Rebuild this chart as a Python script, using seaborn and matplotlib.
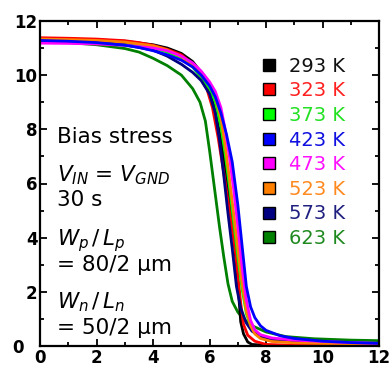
import pandas as pd
import matplotlib
matplotlib.use("Agg")
import matplotlib.pyplot as plt
from matplotlib.lines import Line2D
from matplotlib.ticker import MultipleLocator
from matplotlib.transforms import ScaledTranslation
import seaborn as sns

# VTC curves (x = V_IN, y = V_OUT)
x_293 = [0, 1, 2, 3, 4, 4.5, 5, 5.4, 5.7, 6.0, 6.2, 6.4, 6.6, 6.8, 6.95, 7.05, 7.1, 7.2, 7.35, 7.5, 8, 9, 10, 12]
y_293 = [11.35, 11.33, 11.3, 11.25, 11.12, 11.0, 10.8, 10.5, 10.1, 9.4, 8.7, 7.6, 6.2, 4.6, 3.0, 1.6, 0.9, 0.45, 0.15, 0.06, 0.03, 0.02, 0.02, 0.02]

x_323 = [0, 1, 2, 3, 3.5, 4, 4.5, 5, 5.4, 5.7, 5.9, 6.1, 6.3, 6.5, 6.7, 6.9, 7.1, 7.2, 7.35, 7.6, 8.0, 9, 12]
y_323 = [11.38, 11.36, 11.33, 11.27, 11.2, 11.1, 10.95, 10.75, 10.4, 10.0, 9.5, 8.8, 7.7, 6.4, 5.0, 3.6, 1.6, 0.8, 0.4, 0.18, 0.06, 0.03, 0.03]

x_373 = [0, 1, 2, 3, 4, 4.5, 5, 5.4, 5.7, 6.0, 6.2, 6.4, 6.55, 6.7, 6.85, 7.0, 7.15, 7.3, 7.45, 7.6, 7.8, 8.2, 9, 10, 12]
y_373 = [11.3, 11.28, 11.24, 11.16, 11.0, 10.85, 10.6, 10.3, 9.9, 9.5, 9.0, 8.1, 7.1, 5.9, 4.6, 3.3, 2.1, 1.2, 0.75, 0.5, 0.35, 0.25, 0.18, 0.14, 0.1]

x_423 = [0, 1, 2, 3, 3.5, 4, 4.5, 5, 5.4, 5.7, 6.0, 6.2, 6.4, 6.6, 6.8, 7.0, 7.15, 7.3, 7.45, 7.6, 7.8, 8.0, 8.5, 9, 10, 11, 12]
y_423 = [11.28, 11.25, 11.2, 11.1, 11.02, 10.9, 10.75, 10.55, 10.3, 10.0, 9.6, 9.2, 8.6, 7.8, 6.8, 5.2, 3.7, 2.2, 1.45, 1.05, 0.75, 0.58, 0.38, 0.28, 0.18, 0.13, 0.1]

x_473 = [0, 1, 2, 3, 4, 4.5, 5, 5.4, 5.7, 6.0, 6.2, 6.4, 6.55, 6.7, 6.85, 7.0, 7.15, 7.3, 7.45, 7.6, 7.8, 8.2, 9, 10, 11, 12]
y_473 = [11.18, 11.17, 11.15, 11.1, 11.0, 10.9, 10.7, 10.45, 10.15, 9.75, 9.4, 8.8, 8.0, 7.0, 5.8, 4.4, 2.9, 1.7, 0.95, 0.6, 0.42, 0.3, 0.22, 0.17, 0.13, 0.1]

x_523 = [0, 1, 2, 3, 4, 4.5, 5, 5.4, 5.7, 6.0, 6.2, 6.4, 6.55, 6.7, 6.85, 7.0, 7.15, 7.3, 7.45, 7.6, 7.8, 8.2, 9, 10, 12]
y_523 = [11.33, 11.31, 11.28, 11.22, 11.08, 10.93, 10.68, 10.35, 10.0, 9.65, 9.2, 8.4, 7.4, 6.2, 4.9, 3.6, 2.3, 1.3, 0.75, 0.45, 0.28, 0.17, 0.12, 0.1, 0.08]

x_573 = [0, 1, 2, 3, 4, 4.5, 5, 5.4, 5.7, 6.0, 6.2, 6.35, 6.5, 6.65, 6.8, 6.95, 7.1, 7.3, 7.5, 7.8, 8.2, 9, 10, 12]
y_573 = [11.3, 11.27, 11.22, 11.12, 10.92, 10.7, 10.4, 10.1, 9.8, 9.3, 8.6, 7.6, 6.3, 4.9, 3.6, 2.2, 1.4, 0.85, 0.55, 0.35, 0.25, 0.18, 0.13, 0.1]

x_623 = [0, 1, 2, 3, 3.5, 4, 4.5, 5, 5.4, 5.66, 5.85, 6.0, 6.1, 6.2, 6.35, 6.5, 6.65, 6.8, 7.0, 7.2, 7.5, 8.0, 8.7, 9.7, 11, 12]
y_623 = [11.25, 11.2, 11.12, 10.98, 10.85, 10.62, 10.35, 10.0, 9.5, 9.0, 8.3, 7.2, 6.4, 5.6, 4.4, 3.3, 2.3, 1.65, 1.25, 1.0, 0.75, 0.52, 0.35, 0.27, 0.22, 0.2]

labels = ["293 K", "323 K", "373 K", "423 K", "473 K", "523 K", "573 K", "623 K"]
line_colors = ["#000000", "#ff0000", "#00ff00", "#0000ff", "#ff00ff", "#ff8000", "#000080", "#008000"]
text_colors = ["#111111", "#ff2020", "#22e022", "#1010e0", "#ff10ff", "#ff8a20", "#202080", "#208a20"]

xs = [x_293, x_323, x_373, x_423, x_473, x_523, x_573, x_623]
ys = [y_293, y_323, y_373, y_423, y_473, y_523, y_573, y_623]

frames = []
for lab, x, y in zip(labels, xs, ys):
    frames.append(pd.DataFrame({"vin": x, "vout": y, "T": lab}))
df = pd.concat(frames, ignore_index=True)

sns.set_style("ticks")
plt.rcParams['font.family'] = ['DejaVu Sans']
plt.rcParams['mathtext.fontset'] = 'dejavusans'
plt.rcParams['text.color'] = 'black'
plt.rcParams['xtick.color'] = 'black'
plt.rcParams['ytick.color'] = 'black'

fig = plt.figure(figsize=(3.9, 3.67), dpi=100)
ax = fig.add_axes([0.103, 0.057, 0.869, 0.886])

# draw the 623 K first so the others sit over it like in the original
order = ["623 K", "293 K", "323 K", "373 K", "573 K", "523 K", "473 K", "423 K"]
pal = dict(zip(labels, line_colors))
for lab in order:
    sns.lineplot(data=df[df["T"] == lab], x="vin", y="vout", color=pal[lab],
                 sort=False, estimator=None, linewidth=2.0, ax=ax, legend=False)

ax.set_xlim(0, 12)
ax.set_ylim(0, 12)
ax.set_xlabel("")
ax.set_ylabel("")
ax.xaxis.set_major_locator(MultipleLocator(2))
ax.yaxis.set_major_locator(MultipleLocator(2))
ax.xaxis.set_minor_locator(MultipleLocator(1))
ax.yaxis.set_minor_locator(MultipleLocator(1))
ax.tick_params(which='both', direction='in', top=True, right=True, width=1.3)
ax.tick_params(which='major', length=5, labelsize=12, pad=2)
ax.tick_params(which='minor', length=3)
for sp in ax.spines.values():
    sp.set_linewidth(1.6)
    sp.set_color('black')

# annotation block
fs = 15.5
ax.text(0.05, 0.625, "Bias stress", transform=ax.transAxes, fontsize=fs)
ax.text(0.05, 0.506, r"$V_{IN}$ = $V_{GND}$", transform=ax.transAxes, fontsize=fs)
ax.text(0.05, 0.430, "30 s", transform=ax.transAxes, fontsize=fs)
ax.text(0.05, 0.310, r"$W_p\,/\,L_p$", transform=ax.transAxes, fontsize=fs)
ax.text(0.05, 0.230, "= 80/2 μm", transform=ax.transAxes, fontsize=fs)
ax.text(0.05, 0.116, r"$W_n\,/\,L_n$", transform=ax.transAxes, fontsize=fs)
ax.text(0.05, 0.036, "= 50/2 μm", transform=ax.transAxes, fontsize=fs)

handles = [Line2D([], [], linestyle='none', marker='s', markersize=8.5,
                  markerfacecolor=c, markeredgecolor='black', markeredgewidth=1.0)
           for c in line_colors]
leg = ax.legend(handles, labels, loc='upper left', bbox_to_anchor=(0.63, 0.914),
                frameon=False, fontsize=14, handlelength=0.8, handletextpad=0.6,
                labelspacing=0.29, borderaxespad=0)
for t, c in zip(leg.get_texts(), text_colors):
    t.set_color(c)

# bold tick labels; nudge the y "0" left so it clears the x "0"
fig.canvas.draw()
for lbl in ax.get_xticklabels() + ax.get_yticklabels():
    lbl.set_fontweight('bold')
for lbl in ax.get_yticklabels():
    if lbl.get_text() == '0':
        lbl.set_transform(lbl.get_transform() + ScaledTranslation(-0.14, 0, fig.dpi_scale_trans))

fig.savefig("out.png", dpi=100)
